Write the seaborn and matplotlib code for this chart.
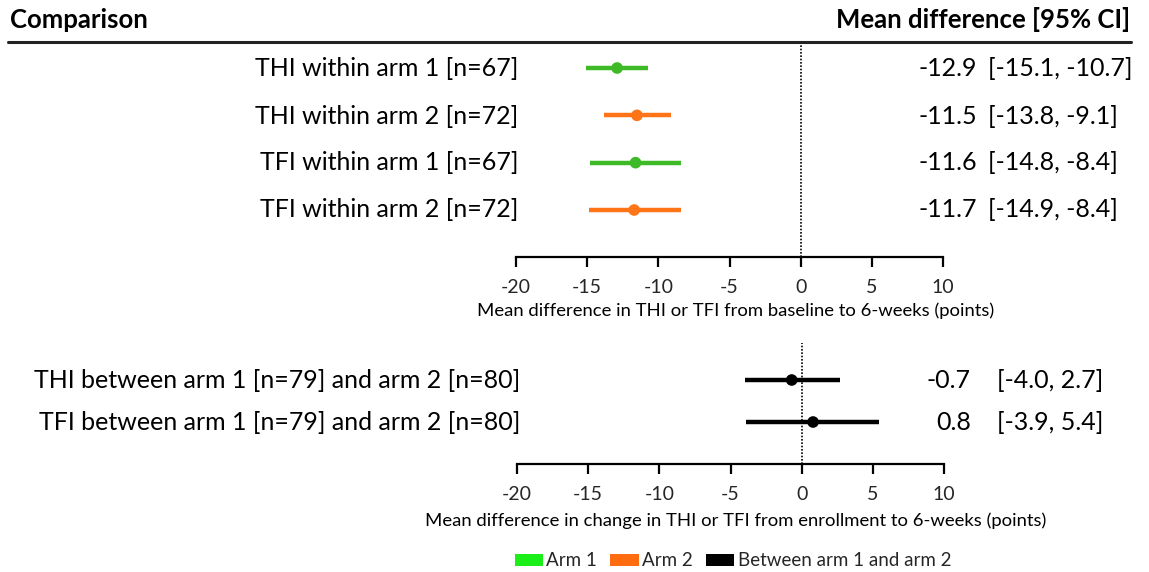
import matplotlib
matplotlib.use("Agg")
import matplotlib.pyplot as plt
import seaborn as sns
import pandas as pd
from matplotlib.patches import Patch
from matplotlib.lines import Line2D

# ---- data ----
within_labels = ["THI within arm 1 [n=67]", "THI within arm 2 [n=72]",
                 "TFI within arm 1 [n=67]", "TFI within arm 2 [n=72]"]
within_mean = [-12.9, -11.5, -11.6, -11.7]
within_lo = [-15.1, -13.8, -14.8, -14.9]
within_hi = [-10.7, -9.1, -8.4, -8.4]
within_group = ["Arm 1", "Arm 2", "Arm 1", "Arm 2"]

between_labels = ["THI between arm 1 [n=79] and arm 2 [n=80]",
                  "TFI between arm 1 [n=79] and arm 2 [n=80]"]
between_mean = [-0.7, 0.8]
between_lo = [-4.0, -3.9]
between_hi = [2.7, 5.4]
between_group = ["Between arm 1 and arm 2", "Between arm 1 and arm 2"]

xticks = [-20, -15, -10, -5, 0, 5, 10]
xlabel_top = "Mean difference in THI or TFI from baseline to 6-weeks (points)"
xlabel_bot = "Mean difference in change in THI or TFI from enrollment to 6-weeks (points)"

line_colors = {"Arm 1": "#3dba25", "Arm 2": "#ff7417", "Between arm 1 and arm 2": "#000000"}
legend_colors = {"Arm 1": "#1aef1a", "Arm 2": "#ff6d10", "Between arm 1 and arm 2": "#000000"}

sns.set_theme(style="white")
plt.rcParams["font.family"] = ["Lato", "DejaVu Sans"]

W, H = 1149, 572
fig = plt.figure(figsize=(W / 100, H / 100), dpi=100)


def fx(px):
    return px / W


def fy(py):
    return 1 - py / H


def panel(left, right, top, bottom, row_px, labels, mean, lo, hi, group,
          label_right, val_x, val_ha, ci_x, xlabel, xlabel_y, fs=18):
    ax = fig.add_axes([fx(left), fy(bottom), fx(right - left), (bottom - top) / H])
    n = len(labels)
    df = pd.DataFrame({"y": list(range(n)), "mean": mean, "lo": lo, "hi": hi,
                       "group": group})
    spacing = (row_px[-1] - row_px[0]) / (n - 1) if n > 1 else 40
    y_top = -(row_px[0] - top) / spacing
    y_bot = (n - 1) + (bottom - row_px[-1]) / spacing
    for _, r in df.iterrows():
        ax.hlines(r["y"], r["lo"], r["hi"], color=line_colors[r["group"]], lw=3.2,
                  zorder=2)
    sns.scatterplot(data=df, x="mean", y="y", hue="group", palette=line_colors,
                    s=70, edgecolor="none", legend=False, ax=ax, zorder=3)
    ax.axvline(0, color="black", ls=(0, (1, 1)), lw=1.2, zorder=1)
    ax.set_xlim(-20, 10)
    ax.set_ylim(y_bot, y_top)
    ax.set_xticks(xticks)
    ax.set_xticklabels([str(t) for t in xticks], fontsize=14)
    ax.set_yticks([])
    ax.set_xlabel("")
    ax.set_ylabel("")
    for s in ["top", "left", "right"]:
        ax.spines[s].set_visible(False)
    ax.spines["bottom"].set_color("black")
    ax.spines["bottom"].set_linewidth(1.6)
    ax.tick_params(axis="x", direction="out", length=7, width=1.6, color="black",
                   pad=9, bottom=True)
    ax.patch.set_alpha(0)
    for i in range(n):
        py = row_px[i]
        fig.text(fx(label_right), fy(py), labels[i], ha="right", va="center",
                 fontsize=fs, color="black")
        fig.text(fx(val_x), fy(py), f"{mean[i]:.1f}", ha=val_ha, va="center",
                 fontsize=fs, color="black")
        fig.text(fx(ci_x), fy(py), f"[{lo[i]:.1f}, {hi[i]:.1f}]", ha="left",
                 va="center", fontsize=fs, color="black")
    fig.text(fx(736), fy(xlabel_y), xlabel, ha="center", va="center", fontsize=13.3,
             color="black")
    return ax


panel(516, 943, 42, 257, [68, 116, 163, 210], within_labels, within_mean,
      within_lo, within_hi, within_group, 518, 918, "left", 988, xlabel_top, 311)
panel(517, 944, 343, 464, [380, 422], between_labels, between_mean,
      between_lo, between_hi, between_group, 520, 971, "right", 997, xlabel_bot, 521)

# header
fig.text(fx(10), fy(20), "Comparison", ha="left", va="center", fontsize=18.5,
         fontweight="bold", color="black")
fig.text(fx(1130), fy(20), "Mean difference [95% CI]", ha="right", va="center",
         fontsize=18.5, fontweight="bold", color="black")
fig.add_artist(Line2D([fx(8), fx(1131)], [fy(42), fy(42)], color="#222222", lw=2.2))

# legend
handles = [Patch(facecolor=legend_colors[k], edgecolor="none", label=k)
           for k in ["Arm 1", "Arm 2", "Between arm 1 and arm 2"]]
fig.legend(handles=handles, loc="center", bbox_to_anchor=(fx(733), fy(561)),
           ncol=3, frameon=False, fontsize=13.5, handlelength=1.5, handleheight=0.55,
           handletextpad=0.2, columnspacing=0.7)

fig.savefig("out.png", dpi=100)
